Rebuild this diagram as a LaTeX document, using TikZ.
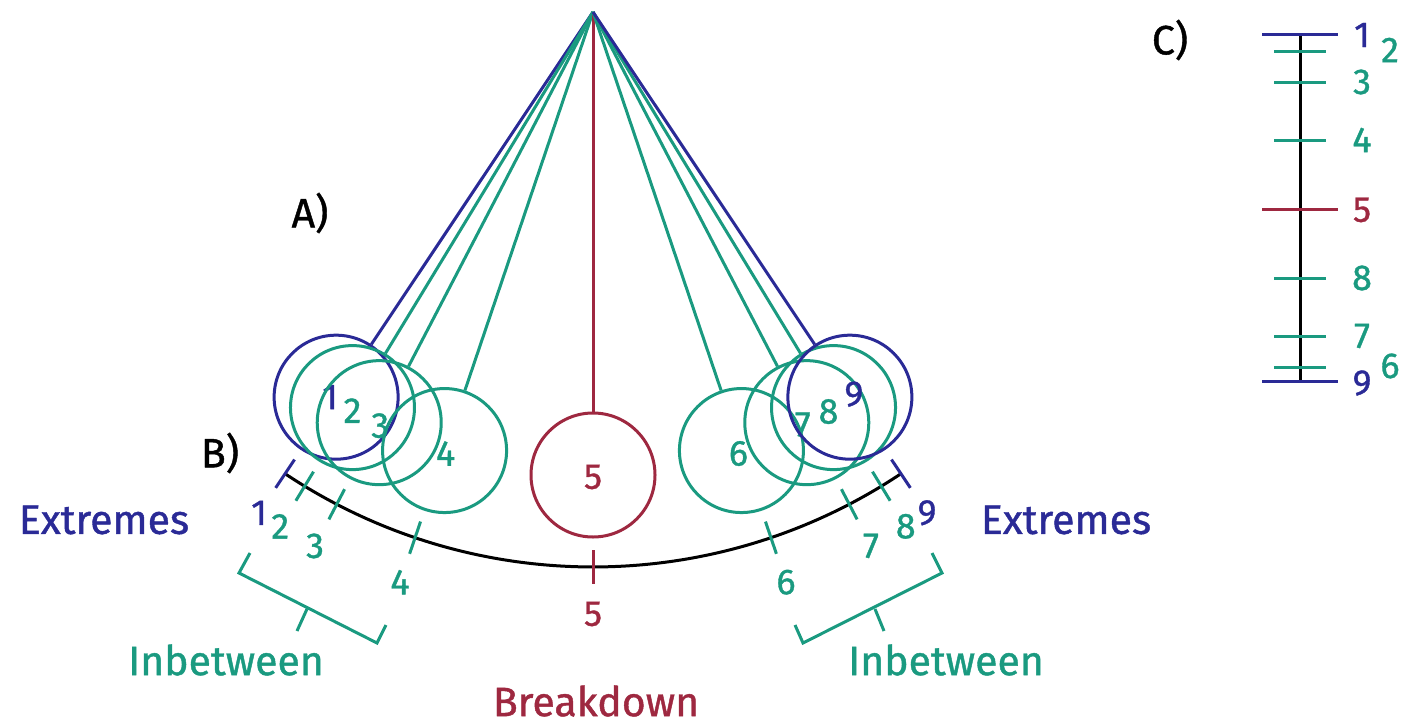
\documentclass[tikz,border=0pt]{standalone}
\usepackage{fontspec}
\setmainfont[FakeBold=1]{Fira Sans}
\usetikzlibrary{calc}
\definecolor{extblue}{RGB}{42,42,150}
\definecolor{ingreen}{RGB}{26,154,128}
\definecolor{bkred}{RGB}{158,40,64}

\begin{document}
\begin{tikzpicture}[x=1pt,y=-1pt,line width=3pt,
  ball/.style={circle,draw,minimum size=124pt,inner sep=0pt},
  lbl/.style={font=\fontsize{36}{36}\selectfont,inner sep=0pt},
  big/.style={font=\fontsize{41}{41}\selectfont,inner sep=0pt}]
\useasboundingbox (0,0) rectangle (1410,725);
\coordinate (P) at (593,12);
% A) pendulum
\foreach \n/\a/\c/\dx/\dy in {1/123.7/extblue/-6/0,2/121.3/ingreen/0/3,3/117.5/ingreen/1/3,4/108.7/ingreen/1/3,5/90/bkred/0/2,6/71.3/ingreen/-3/3,7/62.5/ingreen/-4/2,8/58.7/ingreen/-5/4,9/56.3/extblue/4/-3}{
  \node[ball,\c] (b\n) at ($(P)+(\a:463)$) {};
  \node[lbl,\c] (d\n) at ($(b\n)+(\dx,\dy)$) {\n};
  \draw[\c] (P) -- (b\n);
}
\node[big] (A) at (310,213) {A)};
% B) arc
\draw (P) ++(123.7:555) arc[start angle=123.7,end angle=56.3,radius=555];
\foreach \n/\a/\c in {1/123.7/extblue,2/121.3/ingreen,3/117.5/ingreen,4/108.7/ingreen,5/90/bkred,6/71.3/ingreen,7/62.5/ingreen,8/58.7/ingreen,9/56.3/extblue}{
  \draw[\c] ($(P)+(\a:538)$) -- ($(P)+(\a:572)$);
  \node[lbl,\c] (t\n) at ($(P)+(\a:602)$) {\n};
}
\node[big] (B) at (220,453) {B)};
\draw[ingreen] (250,553) -- (239,573) -- (377,643) -- (386,625);
\draw[ingreen] (307,609) -- (297,631);
\draw[ingreen] (932,553) -- (942,573) -- (803,643) -- (795,625);
\draw[ingreen] (875,609) -- (884,631);
\node[big,extblue] (extl) at (104,520) {Extremes};
\node[big,extblue] (extr) at (1066,520) {Extremes};
\node[big,ingreen] (inl) at (226,660) {Inbetween};
\node[big,ingreen] (inr) at (946,660) {Inbetween};
\node[big,bkred] (brk) at (596,701) {Breakdown};
% C) timing chart
\node[big] (C) at (1170,40) {C)};
\draw (1300,35) -- (1300,381);
\foreach \y/\w/\c in {35/38/extblue,52/26/ingreen,82/26/ingreen,140/26/ingreen,209/38/bkred,278/26/ingreen,336/26/ingreen,367/26/ingreen,381/38/extblue}{
  \draw[\c] (1300-\w,\y) -- (1300+\w,\y);
}
\foreach \x/\y/\n/\c in {1362/35/1/extblue,1390/50/2/ingreen,1362/82/3/ingreen,1362/140/4/ingreen,1362/210/5/bkred,1362/278/8/ingreen,1362/336/7/ingreen,1390/366/6/ingreen,1362/383/9/extblue}{
  \node[lbl,\c] (s\n) at (\x,\y) {\n};
}
\end{tikzpicture}
\end{document}
